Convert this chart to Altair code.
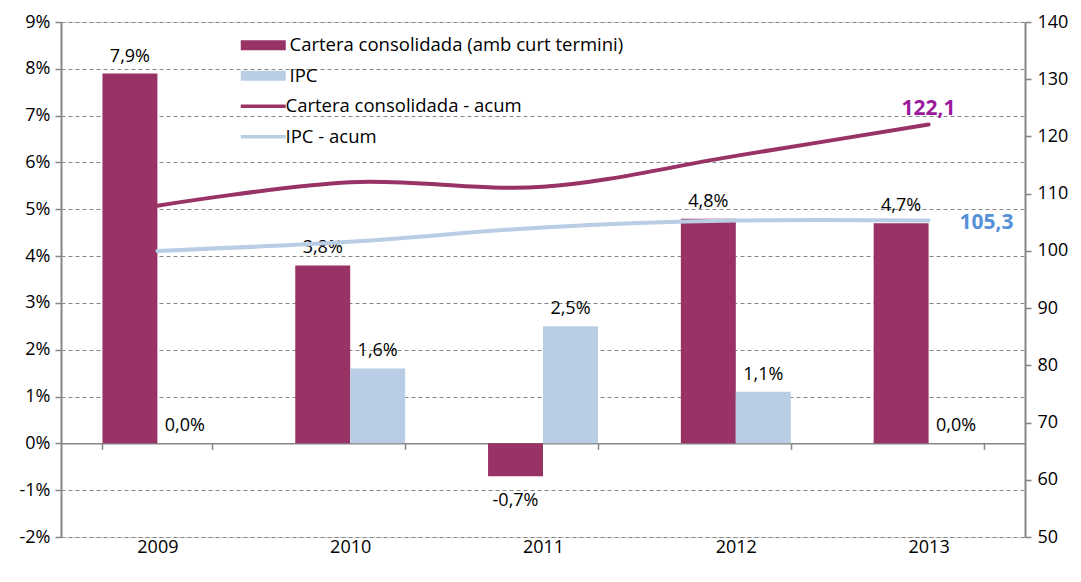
import altair as alt
import pandas as pd

years = ["2009", "2010", "2011", "2012", "2013"]
cartera = [7.9, 3.8, -0.7, 4.8, 4.7]
ipc = [0.0, 1.6, 2.5, 1.1, 0.0]
cartera_acum = [107.9, 112.0, 111.2, 116.6, 122.1]
ipc_acum = [100.0, 101.6, 104.1, 105.3, 105.3]

bar_series = ["Cartera consolidada (amb curt termini)", "IPC"]
line_series = ["Cartera consolidada - acum", "IPC - acum"]
pct_ticks = list(range(-2, 10))
idx_ticks = list(range(50, 150, 10))

RED = "#993366"
BLUE = "#B9CDE5"
FONT = "Open Sans"
FS = 18
LFS = 18.5
W, H = 964, 515
GRID = "#868686"

bars_df = pd.DataFrame(
    [{"year": y, "serie": bar_series[0], "value": v} for y, v in zip(years, cartera)]
    + [{"year": y, "serie": bar_series[1], "value": v} for y, v in zip(years, ipc)]
)
lines_df = pd.DataFrame(
    [{"year": y, "serie": line_series[0], "acum": v} for y, v in zip(years, cartera_acum)]
    + [{"year": y, "serie": line_series[1], "acum": v} for y, v in zip(years, ipc_acum)]
)

x_axis = alt.Axis(
    title=None, orient="bottom", offset=-H * 2 / 11, domainColor=GRID, domainWidth=1.5,
    tickColor=GRID, tickSize=6, tickWidth=1.5, tickBand="extent", labelPadding=H * 2 / 11 - 5,
    labelAngle=0, labelFontSize=FS, labelColor="black", labelFont=FONT, grid=False,
)
x_scale = alt.Scale(domain=years, paddingInner=0.43, paddingOuter=0.215)
X = alt.X("year:N", scale=x_scale, axis=x_axis)

y_left = alt.Y(
    "value:Q",
    scale=alt.Scale(domain=[-2, 9], nice=False, zero=False),
    axis=alt.Axis(
        title=None, values=pct_ticks, labelExpr="datum.value + '%'", grid=True,
        gridDash=[4, 3], gridColor=GRID, gridWidth=1, domainColor=GRID, domainWidth=2,
        tickColor=GRID, tickSize=6, tickWidth=1.5, labelPadding=5, labelFontSize=FS,
        labelColor="black", labelFont=FONT,
    ),
)

x_off = alt.XOffset("serie:N", sort=bar_series, scale=alt.Scale(domain=bar_series, paddingInner=0, paddingOuter=0))

bars = alt.Chart(bars_df).mark_bar().encode(
    x=X,
    xOffset=x_off,
    y=y_left,
    fill=alt.Fill(
        "serie:N",
        scale=alt.Scale(domain=bar_series, range=[RED, BLUE]),
        legend=alt.Legend(
            title=None, orient="none", legendX=193, legendY=14, padding=0,
            symbolType="M-4.5,-1H4.5V1H-4.5Z", symbolSize=100, symbolStrokeWidth=0,
            symbolOpacity=1, labelOffset=17, labelFontSize=LFS, labelFont=FONT,
            labelColor="black", rowPadding=11.5, labelLimit=600,
        ),
    ),
)

label_expr = "(datum.value < 0 ? '-' : '') + replace(format(abs(datum.value), '.1f'), '.', ',') + '%'"
pos_labels = alt.Chart(bars_df).transform_filter("datum.value >= 0").transform_calculate(
    lab=label_expr
).mark_text(baseline="alphabetic", dy=-12, fontSize=FS, font=FONT, color="black").encode(
    x=X, xOffset=x_off, y=alt.Y("value:Q"), text="lab:N"
)
neg_labels = alt.Chart(bars_df).transform_filter("datum.value < 0").transform_calculate(
    lab=label_expr
).mark_text(baseline="alphabetic", dy=30, fontSize=FS, font=FONT, color="black").encode(
    x=X, xOffset=x_off, y=alt.Y("value:Q"), text="lab:N"
)

bar_layer = alt.layer(bars, pos_labels, neg_labels)

y_right = alt.Y(
    "acum:Q",
    scale=alt.Scale(domain=[50, 140], nice=False, zero=False),
    axis=alt.Axis(
        title=None, orient="right", values=idx_ticks, grid=False, domainColor=GRID,
        domainWidth=2, tickColor=GRID, tickSize=6, tickWidth=1.5, labelPadding=6,
        labelFontSize=FS, labelColor="black", labelFont=FONT,
    ),
)

lines = alt.Chart(lines_df).mark_line(strokeWidth=4, interpolate="catmull-rom", strokeCap="round").encode(
    x=X,
    y=y_right,
    stroke=alt.Stroke(
        "serie:N",
        scale=alt.Scale(domain=line_series, range=[RED, BLUE]),
        legend=alt.Legend(
            title=None, orient="none", legendX=193, legendY=75, padding=0,
            symbolType="M-4.5,0H4.5", symbolSize=100, symbolStrokeWidth=3.5,
            labelOffset=13, labelFontSize=LFS, labelFont=FONT, labelColor="black",
            rowPadding=11.5, labelLimit=600,
        ),
    ),
)

end_red = alt.Chart(lines_df).transform_filter(
    f"datum.year == '2013' && datum.serie == '{line_series[0]}'"
).transform_calculate(lab="replace(format(datum.acum, '.1f'), '.', ',')").mark_text(
    baseline="alphabetic", dy=-9, dx=0, fontSize=21, fontWeight="bold", font=FONT, color="#9C1A9C"
).encode(x=X, y="acum:Q", text="lab:N")

end_blue = alt.Chart(lines_df).transform_filter(
    f"datum.year == '2013' && datum.serie == '{line_series[1]}'"
).transform_calculate(lab="replace(format(datum.acum, '.1f'), '.', ',')").mark_text(
    baseline="middle", align="left", dx=31, dy=2, fontSize=21, fontWeight="bold", font=FONT, color="#5691D8"
).encode(x=X, y="acum:Q", text="lab:N")

line_layer = alt.layer(lines, end_red, end_blue)

chart = alt.layer(bar_layer, line_layer).resolve_scale(y="independent").properties(
    width=W, height=H,
    autosize=alt.AutoSizeParams(type="none"),
    padding={"left": 53, "top": 14, "right": 48, "bottom": 37},
).configure_view(stroke=None).configure(background="white")

chart.save("out.html", embed_options={"renderer": "svg", "actions": False})
